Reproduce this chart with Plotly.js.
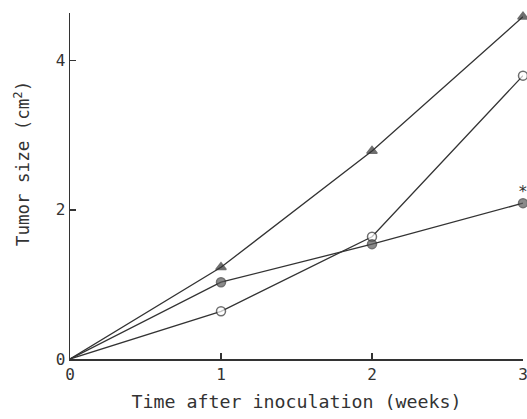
<!DOCTYPE html>
<html><head><meta charset="utf-8">
<script src="https://cdn.plot.ly/plotly-3.0.1.min.js"></script>
<style>html,body{margin:0;padding:0;background:#fff;}#chart{width:527px;height:419px;}</style>
</head><body><div id="chart"></div>
<script>
const weeks = [0, 1, 2, 3];
const triangleSeries = [0, 1.23, 2.79, 4.59];
const openCircleSeries = [0, 0.64, 1.64, 3.80];
const filledCircleSeries = [0, 1.03, 1.54, 2.09];
const xTicks = [0, 1, 2, 3];
const yTicks = [0, 2, 4];
const asteriskWeek = 3;
const asteriskValue = filledCircleSeries[3];
const yTitle = 'Tumor size (cm<sup>2</sup>)';
const xTitle = 'Time after inoculation (weeks)';

const lineColor = '#333';
const sizes = weeks.map(w => w === 0 ? 0 : 9);
const mk = (sym, fill) => ({symbol: sym, size: sizes, color: fill, line: {color: lineColor, width: 1.5}});

const traces = [
  {x: weeks, y: triangleSeries, mode: 'lines+markers', line: {color: lineColor, width: 1.3}, marker: mk('triangle-up', '#333'), cliponaxis: false},
  {x: weeks, y: openCircleSeries, mode: 'lines+markers', line: {color: lineColor, width: 1.3}, marker: mk('circle', '#fff'), cliponaxis: false},
  {x: weeks, y: filledCircleSeries, mode: 'lines+markers', line: {color: lineColor, width: 1.3}, marker: mk('circle', '#5a5a5a'), cliponaxis: false}
];

const font = {family: 'DejaVu Sans Mono, monospace', color: '#333'};
const layout = {
  width: 527, height: 419,
  margin: {l: 70, r: 4, t: 13, b: 60},
  showlegend: false,
  paper_bgcolor: '#fff', plot_bgcolor: '#fff',
  font: font,
  xaxis: {
    range: [0, 3], tickvals: xTicks, ticktext: xTicks.map(String),
    ticks: 'inside', ticklen: 6, tickwidth: 1.5, tickcolor: lineColor,
    ticklabeloverflow: 'allow',
    showline: true, linecolor: lineColor, linewidth: 1.5, showgrid: false, zeroline: false,
    tickfont: {family: font.family, size: 16, color: '#333'},
    title: {text: xTitle, font: {family: font.family, size: 18.3, color: '#333'}, standoff: 12}
  },
  yaxis: {
    range: [0, 4.64], tickvals: yTicks, ticktext: yTicks.map(String),
    ticks: 'inside', ticklen: 6, tickwidth: 1.5, tickcolor: lineColor,
    ticklabeloverflow: 'allow',
    showline: true, linecolor: lineColor, linewidth: 1.5, showgrid: false, zeroline: false,
    tickfont: {family: font.family, size: 16, color: '#333'}
  },
  annotations: [
    {x: asteriskWeek, y: asteriskValue, text: '*', showarrow: false, yshift: 12, font: {family: font.family, size: 16, color: '#333'}},
    {xref: 'paper', yref: 'paper', x: -0.106, y: 0.566, xanchor: 'center', yanchor: 'middle', textangle: -90, text: yTitle, showarrow: false, font: {family: font.family, size: 17.5, color: '#333'}}
  ]
};
Plotly.newPlot('chart', traces, layout, {staticPlot: true, displayModeBar: false});
</script></body></html>
